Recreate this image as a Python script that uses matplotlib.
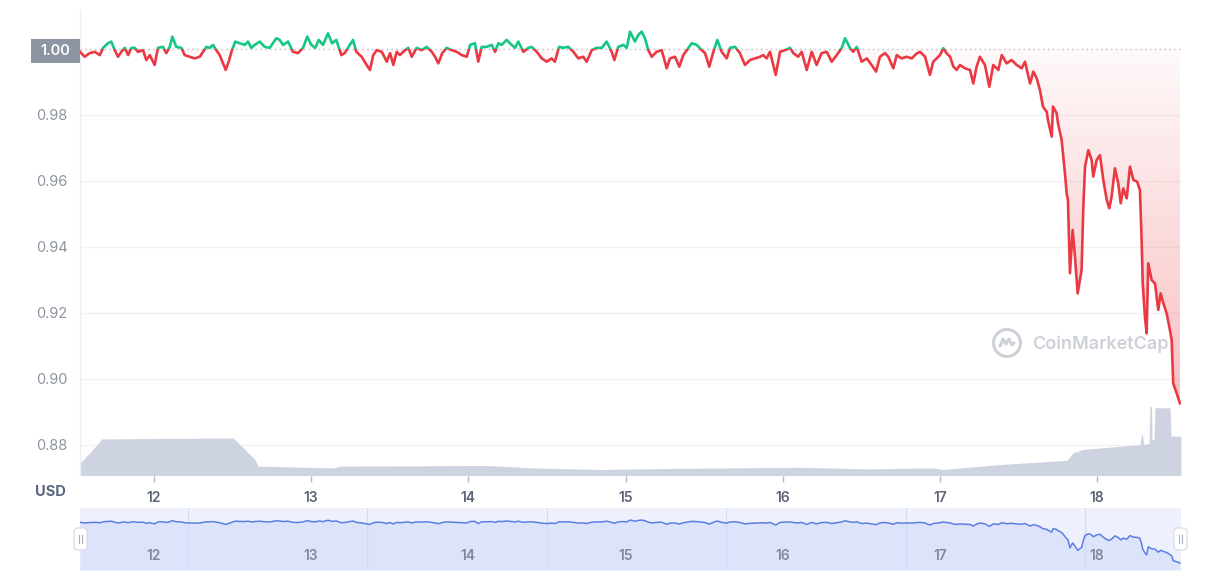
import matplotlib
matplotlib.use("Agg")
import numpy as np
import matplotlib.pyplot as plt
from matplotlib.patches import Rectangle, FancyBboxPatch, Ellipse
from matplotlib.path import Path
from matplotlib.lines import Line2D
from matplotlib.transforms import blended_transform_factory, IdentityTransform
from matplotlib.colors import to_rgb

plt.rcParams['font.family'] = ['Inter', 'DejaVu Sans']

# ---------------- data ----------------
# time in days of the month (May), price in USD
price_time_day = [
    11.529, 11.559, 11.591, 11.623, 11.655, 11.676, 11.707, 11.728, 11.750, 11.771,
    11.792, 11.814, 11.835, 11.856, 11.877, 11.898, 11.930, 11.951, 11.973, 12.004,
    12.025, 12.057, 12.078, 12.100, 12.116, 12.142, 12.174, 12.195, 12.227, 12.259,
    12.291, 12.312, 12.333, 12.354, 12.375, 12.396, 12.418, 12.439, 12.456, 12.475,
    12.496, 12.517, 12.545, 12.577, 12.598, 12.619, 12.641, 12.673, 12.704, 12.736,
    12.778, 12.800, 12.821, 12.853, 12.884, 12.916, 12.948, 12.975, 13.001, 13.026,
    13.048, 13.075, 13.107, 13.133, 13.160, 13.192, 13.213, 13.234, 13.266, 13.287,
    13.321, 13.353, 13.374, 13.395, 13.417, 13.449, 13.481, 13.502, 13.523, 13.544,
    13.565, 13.597, 13.618, 13.640, 13.671, 13.703, 13.735, 13.767, 13.788, 13.809,
    13.834, 13.862, 13.894, 13.926, 13.958, 13.990, 14.011, 14.042, 14.063, 14.085,
    14.117, 14.149, 14.170, 14.191, 14.212, 14.244, 14.276, 14.297, 14.318, 14.350,
    14.382, 14.403, 14.435, 14.467, 14.499, 14.530, 14.551, 14.577, 14.604, 14.636,
    14.668, 14.700, 14.731, 14.753, 14.785, 14.817, 14.849, 14.880, 14.912, 14.929,
    14.954, 14.986, 15.008, 15.029, 15.050,
    15.060, 15.081, 15.103, 15.124, 15.145, 15.167, 15.198, 15.230, 15.262, 15.283,
    15.315, 15.342, 15.368, 15.400, 15.421, 15.453, 15.485, 15.506, 15.533, 15.559,
    15.584, 15.612, 15.644, 15.665, 15.697, 15.728, 15.760, 15.792, 15.824, 15.856,
    15.877, 15.898, 15.919, 15.956, 15.983, 16.015, 16.047, 16.068, 16.099, 16.121,
    16.153, 16.185, 16.216, 16.248, 16.280, 16.312, 16.344, 16.376, 16.397, 16.428,
    16.449, 16.471, 16.503, 16.535, 16.566, 16.594, 16.619, 16.651, 16.672, 16.704,
    16.726, 16.757, 16.789,
    16.821, 16.853, 16.874, 16.906, 16.937, 16.958, 16.980, 17.001, 17.022, 17.044,
    17.065, 17.086, 17.107, 17.128, 17.160, 17.192, 17.213, 17.234, 17.255, 17.287,
    17.315, 17.340, 17.372, 17.394, 17.425, 17.457, 17.489, 17.521, 17.542, 17.574,
    17.595, 17.616,
    17.637, 17.656, 17.680, 17.688, 17.712, 17.720, 17.743, 17.752, 17.775, 17.796,
    17.807, 17.815, 17.828, 17.845, 17.860, 17.877, 17.902, 17.913, 17.924, 17.945,
    17.966, 17.976, 17.998, 18.019, 18.040, 18.062, 18.078, 18.093, 18.114, 18.135,
    18.151, 18.167, 18.189, 18.210, 18.231, 18.256, 18.273, 18.284, 18.291, 18.305,
    18.316, 18.326, 18.348, 18.369, 18.390, 18.405, 18.422, 18.443, 18.464, 18.475,
    18.485, 18.507, 18.528,
]
price_usd = [
    0.9990, 0.9975, 0.9986, 0.9990, 0.9980, 1.0002, 1.0016, 1.0021, 0.9995, 0.9975,
    0.9990, 1.0002, 0.9980, 1.0002, 1.0002, 0.9990, 0.9995, 0.9965, 0.9980, 0.9950,
    1.0002, 1.0005, 0.9986, 1.0005, 1.0036, 1.0005, 1.0002, 0.9980, 0.9975, 0.9970,
    0.9975, 0.9990, 1.0005, 1.0002, 1.0011, 0.9995, 0.9980, 0.9955, 0.9935, 0.9960,
    0.9995, 1.0021, 1.0016, 1.0011, 1.0021, 1.0002, 1.0011, 1.0021, 1.0005, 1.0002,
    1.0031, 1.0026, 1.0011, 1.0021, 0.9990, 0.9986, 1.0002, 1.0036, 1.0011, 1.0002,
    1.0026, 1.0011, 1.0046, 1.0016, 1.0026, 0.9980, 0.9986, 1.0002, 1.0026, 0.9990,
    0.9975, 0.9950, 0.9935, 0.9980, 0.9995, 0.9990, 0.9960, 0.9986, 0.9950, 0.9990,
    0.9980, 0.9995, 1.0002, 0.9975, 1.0002, 0.9995, 1.0005, 0.9990, 0.9975, 0.9955,
    0.9986, 1.0002, 0.9995, 0.9990, 0.9980, 0.9975, 1.0011, 1.0016, 0.9960, 1.0005,
    1.0005, 1.0011, 0.9990, 1.0016, 1.0011, 1.0026, 1.0011, 1.0002, 1.0021, 0.9990,
    1.0002, 1.0005, 0.9990, 0.9970, 0.9960, 0.9970, 0.9960, 1.0005, 1.0002, 1.0005,
    0.9990, 0.9970, 0.9975, 0.9960, 0.9995, 1.0002, 1.0002, 1.0021, 0.9990, 0.9965,
    1.0005, 1.0011, 1.0002, 1.0051, 1.0031,
    1.0021, 1.0041, 1.0051, 1.0031, 0.9995, 0.9975, 0.9990, 0.9995, 0.9940, 0.9970,
    0.9975, 0.9945, 0.9980, 1.0002, 1.0016, 1.0011, 0.9995, 0.9986, 0.9945, 0.9990,
    1.0026, 0.9990, 0.9970, 1.0002, 1.0005, 0.9986, 0.9950, 0.9965, 0.9970, 0.9975,
    0.9980, 0.9970, 0.9990, 0.9920, 0.9990, 0.9995, 1.0002, 0.9986, 0.9975, 0.9990,
    0.9935, 0.9990, 0.9950, 0.9986, 0.9990, 0.9960, 0.9980, 1.0002, 1.0031, 1.0002,
    0.9990, 1.0005, 0.9960, 0.9970, 0.9950, 0.9930, 0.9975, 0.9986, 0.9975, 0.9940,
    0.9980, 0.9970, 0.9975,
    0.9970, 0.9985, 0.9990, 0.9975, 0.9920, 0.9960, 0.9970, 0.9980, 1.0001, 0.9985,
    0.9975, 0.9945, 0.9935, 0.9950, 0.9940, 0.9935, 0.9894, 0.9945, 0.9975, 0.9950,
    0.9884, 0.9950, 0.9935, 0.9980, 0.9955, 0.9965, 0.9950, 0.9940, 0.9960, 0.9894,
    0.9930, 0.9910,
    0.9874, 0.9824, 0.9808, 0.9783, 0.9733, 0.9824, 0.9804, 0.9773, 0.9723, 0.9622,
    0.9561, 0.9541, 0.9319, 0.9450, 0.9369, 0.9258, 0.9329, 0.9521, 0.9642, 0.9692,
    0.9662, 0.9612, 0.9662, 0.9677, 0.9602, 0.9541, 0.9516, 0.9551, 0.9637, 0.9592,
    0.9531, 0.9576, 0.9546, 0.9642, 0.9602, 0.9596, 0.9571, 0.9420, 0.9288, 0.9187,
    0.9137, 0.9349, 0.9298, 0.9288, 0.9208, 0.9258, 0.9228, 0.9198, 0.9147, 0.9117,
    0.8985, 0.8955, 0.8925,
]

# trading volume (billion USD, approximate)
vol_time_day = [11.529, 11.593, 11.667, 12.503, 12.643, 12.662, 13.139, 13.183, 14.119,
                14.411, 14.838, 15.264, 15.684, 16.110, 16.537, 16.956, 17.020, 17.383,
                17.809, 17.847, 17.911, 18.273, 18.286, 18.299, 18.331, 18.337, 18.347,
                18.350, 18.363, 18.369, 18.464, 18.471, 18.534]
vol_busd = [0.64, 1.15, 1.83, 1.88, 0.80, 0.47, 0.38, 0.47, 0.50,
            0.38, 0.30, 0.35, 0.38, 0.41, 0.33, 0.38, 0.30, 0.55,
            0.76, 1.13, 1.30, 1.55, 2.13, 1.55, 1.60, 3.47, 3.47,
            1.80, 1.80, 3.39, 3.39, 1.97, 1.97]

ytick_vals = [0.88, 0.90, 0.92, 0.94, 0.96, 0.98]
xtick_days = [12, 13, 14, 15, 16, 17, 18]
nav_grid_days = [12.216, 13.355, 14.500, 15.639, 16.785, 17.924]
BASE = 1.00

# ---------------- styling ----------------
GREEN = '#16c784'
RED = '#ea3943'
VOL_COLOR = '#cdd3e0'
W, H = 1212, 580
T_MIN, T_MAX = 11.529, 18.5345
P_MIN, P_MAX = 0.87061, 1.01167
VOL_TOP = 23.3

fig = plt.figure(figsize=(W / 100, H / 100), dpi=100)
fig.patch.set_facecolor('white')


def add_axes_px(x0, y0, x1, y1):
    return fig.add_axes([x0 / W, 1 - y1 / H, (x1 - x0) / W, (y1 - y0) / H])


t = np.array(price_time_day)
p = np.array(price_usd)

ax = add_axes_px(80, 10, 1181, 475.5)
ax.set_facecolor('white')

# grid
for v in ytick_vals:
    ax.axhline(v, color='#f1f2f4', lw=1.0, zorder=0)

# volume (own scale, drawn in axes-fraction units)
vtrans = blended_transform_factory(ax.transData, ax.transAxes)
ax.fill_between(vol_time_day, 0, np.array(vol_busd) / VOL_TOP, transform=vtrans,
                color=VOL_COLOR, lw=0, zorder=1)


def gradient_area(ax, below, rgb, a0, a1, v_far):
    where = (p <= BASE) if below else (p >= BASE)
    coll = ax.fill_between(t, p, BASE, where=where, interpolate=True,
                           facecolor='none', edgecolor='none', lw=0)
    comp = Path.make_compound_path(*coll.get_paths())
    n = 256
    lo, hi = (v_far, BASE) if below else (BASE, v_far)
    ys = np.linspace(lo, hi, n)
    frac = np.clip(np.abs(ys - BASE) / abs(v_far - BASE), 0, 1)
    img = np.zeros((n, 1, 4))
    img[..., :3] = to_rgb(rgb)
    img[:, 0, 3] = a0 + (a1 - a0) * frac
    im = ax.imshow(img, extent=[T_MIN, T_MAX, lo, hi], origin='lower',
                   aspect='auto', zorder=2, interpolation='bilinear')
    im.set_clip_path(comp, ax.transData)


gradient_area(ax, True, RED, 0.03, 0.33, 0.89)
gradient_area(ax, False, GREEN, 0.02, 0.12, 1.012)

# baseline
ax.axhline(BASE, color='#b9bec7', lw=1.0, ls=(0, (1, 2.5)), zorder=3)

# price line: green above baseline, red below
lg, = ax.plot(t, p, color=GREEN, lw=1.9, zorder=4, solid_joinstyle='round')
lg.set_clip_path(Rectangle((T_MIN, BASE), T_MAX - T_MIN, 1.0, transform=ax.transData))
lr, = ax.plot(t, p, color=RED, lw=1.9, zorder=4, solid_joinstyle='round')
lr.set_clip_path(Rectangle((T_MIN, BASE - 1.0), T_MAX - T_MIN, 1.0, transform=ax.transData))

ax.set_xlim(T_MIN, T_MAX)
ax.set_ylim(P_MIN, P_MAX)

for s in ['top', 'right', 'bottom']:
    ax.spines[s].set_visible(False)
ax.spines['left'].set_color('#eceef1')
ax.spines['left'].set_linewidth(1.0)

ax.set_yticks(ytick_vals)
ax.set_yticklabels([f'{v:.2f}' for v in ytick_vals])
ax.tick_params(axis='y', length=0, pad=9, labelsize=10.5, labelcolor='#8c93a0')
ax.set_xticks(xtick_days)
ax.set_xticklabels([str(d) for d in xtick_days])
ax.tick_params(axis='x', length=4, width=1, color='#b3b9c3', pad=7,
               labelsize=10, labelcolor='#5b6577')
for lbl in ax.get_xticklabels():
    lbl.set_fontweight('semibold')

# current-level label box "1.00"
btrans = blended_transform_factory(ax.transAxes, ax.transData)
ax.add_patch(Rectangle((-49 / 1101, BASE - 0.0045), 49 / 1101, 0.0074,
                       transform=btrans, facecolor='#8e95a2', edgecolor='none',
                       clip_on=False, zorder=6))
ax.text(-24.5 / 1101, BASE - 0.0008, f'{BASE:.2f}', transform=btrans, ha='center',
        va='center', fontsize=10.5, color='white', fontweight='semibold', zorder=7)

fig.text(50 / W, 1 - 492 / H, 'USD', ha='center', va='center', fontsize=10.5,
         fontweight='bold', color='#58667e')

# watermark
wm = '#cdd1d8'
fig.text(1032 / W, 1 - 344 / H, 'CoinMarketCap', ha='left', va='center',
         fontsize=13, fontweight='semibold', color=wm)
cx, cy = 1007, H - 343
fig.add_artist(Ellipse((cx, cy), 27, 27, transform=IdentityTransform(),
                       fill=False, ec=wm, lw=2.2))
wave = [(-7, -3), (-4, 4), (-1, -1), (2, 4), (5, -2), (7, 0)]
fig.add_artist(Line2D([cx + a for a, b in wave], [cy + b for a, b in wave],
                      transform=IdentityTransform(), color=wm, lw=2.2,
                      solid_joinstyle='round', solid_capstyle='round'))

# ---------------- navigator ----------------
NAV_MIN, NAV_MAX = 0.874, 1.0367
nav = add_axes_px(80, 508, 1181, 570)
nav.set_facecolor('#eef1fd')
nav.fill_between(t, p, NAV_MIN, color='#dce3fb', lw=0, zorder=1)
for d in nav_grid_days:
    nav.axvline(d, color='#d2d9f5', lw=0.8, zorder=2)
nav.plot(t, p, color='#5b7fe1', lw=1.1, zorder=3)
ntrans = blended_transform_factory(nav.transData, nav.transAxes)
for d in xtick_days:
    nav.text(d, 0.23, str(d), transform=ntrans, ha='center', va='center',
             fontsize=10, fontweight='semibold', color='#80899e', zorder=4)
nav.set_xlim(T_MIN, T_MAX)
nav.set_ylim(NAV_MIN, NAV_MAX)
nav.set_xticks([])
nav.set_yticks([])
for s in nav.spines.values():
    s.set_visible(False)

# navigator handles
for hx in (74, 1174):
    fig.add_artist(FancyBboxPatch((hx, H - 550), 13, 22,
                                  boxstyle='round,pad=0,rounding_size=4',
                                  transform=IdentityTransform(), fc='white',
                                  ec='#d5d9e0', lw=0.8, zorder=10))
    for off in (5, 8):
        fig.add_artist(Line2D([hx + off, hx + off], [H - 543, H - 535],
                              transform=IdentityTransform(), color='#a9afbb',
                              lw=0.8, zorder=11))

fig.savefig('out.png', dpi=100, facecolor='white')
